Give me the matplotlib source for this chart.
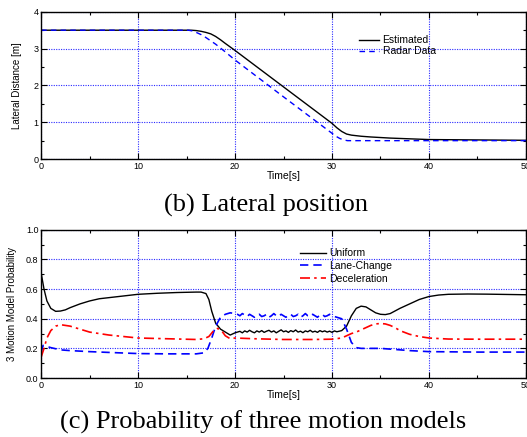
import numpy as np
import matplotlib
matplotlib.use('Agg')
import matplotlib.pyplot as plt
from matplotlib.ticker import MultipleLocator

plt.rcParams['font.family'] = 'Liberation Sans'

# (b) lateral position
est_t = [0, 15.5, 16, 16.5, 17, 17.5, 18, 18.5, 19, 20, 25, 30, 30.5, 31, 31.5,
         32, 33, 34, 36, 38, 40, 45, 50]
est_y = [3.5, 3.5, 3.49, 3.47, 3.44, 3.40, 3.33, 3.24, 3.14, 2.95, 1.96, 0.97,
         0.85, 0.75, 0.68, 0.65, 0.62, 0.60, 0.57, 0.55, 0.53, 0.52, 0.51]
radar_t = [0, 15.2, 15.6, 16, 16.5, 17, 17.5, 18, 19, 20, 25, 30, 30.4, 30.8,
           31.2, 31.6, 32, 35, 40, 45, 50]
radar_y = [3.5, 3.5, 3.48, 3.44, 3.38, 3.30, 3.21, 3.12, 2.91, 2.69, 1.69, 0.70,
           0.62, 0.56, 0.52, 0.50, 0.50, 0.50, 0.50, 0.50, 0.50]

# (c) model probabilities
noisy_t = [20.25 + 0.25 * i for i in range(42)]
uni_t = ([0, 0.3, 0.6, 1, 1.5, 2, 2.5, 3, 4, 5, 6, 8, 10, 12, 14, 16, 16.5, 17,
          17.3, 17.6, 18, 18.5, 19, 19.5, 20] + noisy_t +
         [31, 31.5, 32, 32.5, 33, 33.5, 34, 34.5, 35, 35.5, 36, 37, 38, 39, 40,
          41, 42, 44, 46, 48, 50])
uni_noisy = [0.31, 0.315, 0.305, 0.318, 0.31, 0.322, 0.312, 0.305, 0.318, 0.31,
             0.32, 0.308, 0.316, 0.322, 0.31, 0.318, 0.305, 0.315, 0.325, 0.312,
             0.318, 0.308, 0.32, 0.312, 0.324, 0.31, 0.316, 0.306, 0.318, 0.312,
             0.322, 0.31, 0.316, 0.308, 0.32, 0.312, 0.318, 0.31, 0.316, 0.308,
             0.318, 0.312]
uni_y = ([0.71, 0.6, 0.52, 0.47, 0.45, 0.452, 0.46, 0.475, 0.50, 0.52, 0.535,
          0.55, 0.565, 0.572, 0.577, 0.58, 0.58, 0.57, 0.53, 0.45, 0.37, 0.33,
          0.31, 0.29, 0.305] + uni_noisy +
         [0.32, 0.35, 0.42, 0.47, 0.485, 0.48, 0.46, 0.44, 0.43, 0.428, 0.435,
          0.47, 0.50, 0.53, 0.55, 0.56, 0.565, 0.567, 0.566, 0.564, 0.562])

lane_t = ([0, 0.2, 0.5, 1, 2, 3, 5, 8, 10, 13, 16, 16.8, 17.2, 17.6, 18, 18.5,
           19, 19.5, 20] + noisy_t +
          [31, 31.5, 32, 32.5, 33, 34, 35, 36, 37, 38, 40, 45, 50])
lane_noisy = [0.43, 0.42, 0.435, 0.425, 0.415, 0.43, 0.42, 0.41, 0.425, 0.43,
              0.415, 0.42, 0.43, 0.41, 0.42, 0.435, 0.42, 0.415, 0.43, 0.42,
              0.41, 0.425, 0.43, 0.415, 0.42, 0.43, 0.41, 0.42, 0.435, 0.42,
              0.415, 0.43, 0.42, 0.41, 0.425, 0.43, 0.415, 0.42, 0.43, 0.42,
              0.415, 0.41]
lane_y = ([0.17, 0.22, 0.215, 0.205, 0.19, 0.185, 0.178, 0.17, 0.165, 0.163,
           0.163, 0.17, 0.2, 0.27, 0.35, 0.41, 0.43, 0.44, 0.435] + lane_noisy +
          [0.40, 0.33, 0.24, 0.205, 0.2, 0.2, 0.2, 0.195, 0.19, 0.185, 0.178,
           0.175, 0.175])

dec_t = [0, 0.3, 0.6, 1, 1.5, 2, 3, 4, 5, 7, 10, 13, 16, 16.8, 17.3, 17.8, 18.2,
         18.6, 19, 19.5, 20, 22, 25, 28, 30, 31, 31.5, 32, 32.5, 33, 33.5, 34,
         34.5, 35, 35.5, 36, 36.5, 37, 38, 39, 40, 42, 45, 50]
dec_y = [0.14, 0.2, 0.27, 0.32, 0.35, 0.36, 0.35, 0.33, 0.31, 0.29, 0.27, 0.265,
         0.26, 0.265, 0.28, 0.32, 0.335, 0.32, 0.285, 0.265, 0.27, 0.265, 0.26,
         0.26, 0.262, 0.27, 0.285, 0.3, 0.31, 0.325, 0.34, 0.355, 0.365, 0.368,
         0.365, 0.355, 0.34, 0.32, 0.295, 0.28, 0.27, 0.263, 0.262, 0.262]


def style(ax, ymax, ymaj, ymin):
    ax.set_xlim(0, 50)
    ax.set_ylim(0, ymax)
    ax.xaxis.set_major_locator(MultipleLocator(10))
    ax.xaxis.set_minor_locator(MultipleLocator(5))
    ax.yaxis.set_major_locator(MultipleLocator(ymaj))
    ax.yaxis.set_minor_locator(MultipleLocator(ymin))
    ax.tick_params(which='both', direction='in', top=True, right=True,
                   labelsize=6.5, pad=2)
    ax.tick_params(which='major', length=4, width=0.8)
    ax.tick_params(which='minor', length=2, width=0.8)
    ax.grid(True, which='major', color='#2a2aff', linestyle=(0, (1, 1.2)), lw=0.8)
    for s in ax.spines.values():
        s.set_linewidth(1.0)
    ax.set_xlabel('Time[s]', fontsize=7.5, labelpad=0)


fig = plt.figure(figsize=(5.27, 4.37), dpi=100)

ax1 = fig.add_axes([0.078, 0.636, 0.92, 0.337])
ax1.plot(est_t, est_y, color='black', lw=1.0, label='Estimated')
ax1.plot(radar_t, radar_y, color='#0000ff', lw=1.0, ls=(0, (4, 3)), label='Radar Data')
style(ax1, 4, 1, 0.5)
ax1.yaxis.set_major_formatter(plt.FormatStrFormatter('%d'))
ax1.set_ylabel('Lateral Distance [m]', fontsize=7, labelpad=8)
ax1.legend(loc='upper left', bbox_to_anchor=(0.644, 0.875), frameon=False,
           fontsize=7.5, handlelength=2.0, handletextpad=0.3, labelspacing=0.1,
           borderpad=0)

ax2 = fig.add_axes([0.078, 0.135, 0.92, 0.339])
ax2.plot(uni_t, uni_y, color='black', lw=1.0, label='Uniform')
ax2.plot(lane_t, lane_y, color='#0000ff', lw=1.2, ls=(0, (5, 3)), label='Lane-Change')
ax2.plot(dec_t, dec_y, color='#ff0000', lw=1.2, ls=(0, (6, 2.5, 1.5, 2.5)), label='Deceleration')
style(ax2, 1.0, 0.2, 0.1)
ax2.yaxis.set_major_formatter(plt.FormatStrFormatter('%.1f'))
ax2.set_ylabel('3 Motion Model Probability', fontsize=7, labelpad=6)
ax2.legend(loc='upper left', bbox_to_anchor=(0.524, 0.91), frameon=False,
           fontsize=7.5, handlelength=2.5, handletextpad=0.3, labelspacing=0.25,
           borderpad=0)

fig.text(0.505, 0.529, '(b) Lateral position', ha='center', va='center',
         fontsize=19, family='Liberation Serif')
fig.text(0.5, 0.034, '(c) Probability of three motion models', ha='center',
         va='center', fontsize=19, family='Liberation Serif')

fig.savefig('out.png', dpi=100)
